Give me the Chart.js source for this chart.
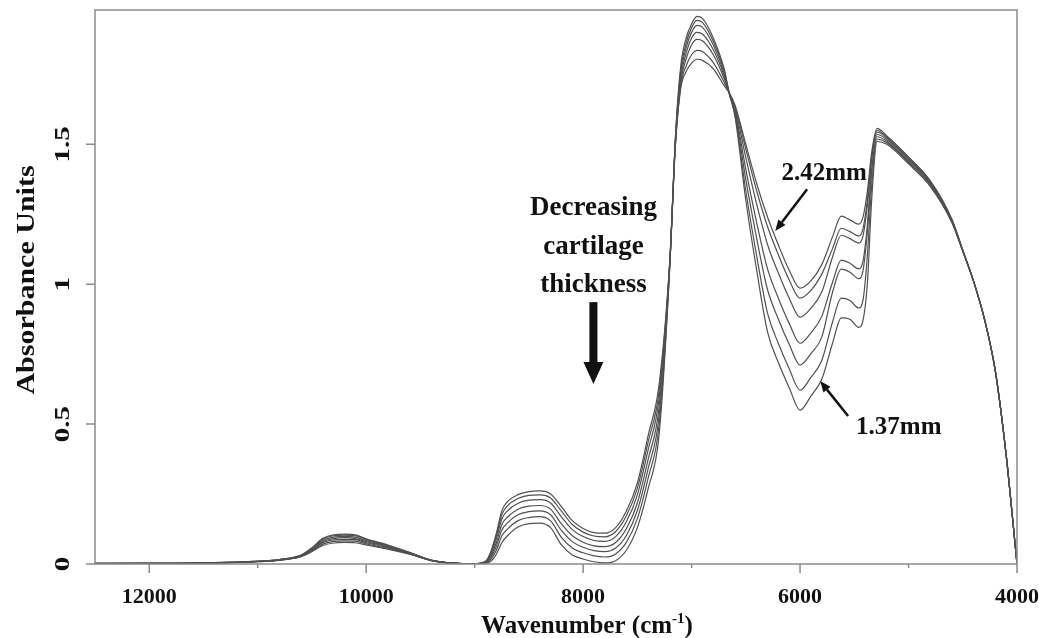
<!DOCTYPE html>
<html>
<head>
<meta charset="utf-8">
<script src="https://cdn.jsdelivr.net/npm/chart.js@4.4.1/dist/chart.umd.min.js"></script>
<style>
  html, body { margin: 0; padding: 0; background: #ffffff; }
  #wrap { width: 1039px; height: 638px; }
</style>
</head>
<body>
<div id="wrap"><canvas id="c" width="1039" height="638"></canvas></div>
<script>
// Wavenumber grid (cm-1)
const wavenumbers = [12500, 12000, 11500, 11000, 10800, 10600, 10500, 10400, 10300, 10200, 10100, 10000,
  9800, 9600, 9400, 9200, 9000, 8900, 8850, 8800, 8750, 8700, 8600, 8500, 8400, 8300, 8200, 8100, 8000, 7900, 7800,
  7700, 7600, 7500, 7400, 7300, 7200, 7150, 7100, 7050, 7000, 6950, 6900, 6800, 6700, 6650, 6600, 6500,
  6400, 6300, 6200, 6100, 6000, 5900, 5800, 5700, 5620, 5540, 5460, 5420, 5380, 5340, 5290, 5200, 5000,
  4800, 4600, 4500, 4400, 4300, 4200, 4100, 4050, 4000];

// Absorbance spectra, thickest (2.42 mm) to thinnest (1.37 mm)
const spec242 = [0.002, 0.002, 0.004, 0.010, 0.016, 0.032, 0.058, 0.092, 0.104, 0.107, 0.104, 0.090,
  0.068, 0.042, 0.014, 0.003, 0.001, 0.010, 0.045, 0.110, 0.190, 0.222, 0.248, 0.259, 0.261, 0.250, 0.205, 0.155, 0.127, 0.112, 0.110,
  0.130, 0.190, 0.290, 0.460, 0.640, 1.090, 1.490, 1.700, 1.760, 1.790, 1.804, 1.800, 1.770, 1.710, 1.682, 1.640, 1.500,
  1.360, 1.240, 1.140, 1.050, 0.986, 1.012, 1.070, 1.170, 1.243, 1.230, 1.215, 1.240, 1.330, 1.470, 1.557, 1.530, 1.455,
  1.370, 1.232, 1.122, 1.010, 0.875, 0.690, 0.390, 0.200, 0.000];
const spec2 = [0.002, 0.002, 0.004, 0.010, 0.016, 0.031, 0.056, 0.089, 0.101, 0.103, 0.101, 0.087,
  0.066, 0.041, 0.014, 0.003, 0.001, 0.009, 0.041, 0.101, 0.176, 0.207, 0.234, 0.245, 0.247, 0.236, 0.189, 0.141, 0.114, 0.100, 0.097,
  0.116, 0.173, 0.271, 0.437, 0.618, 1.088, 1.494, 1.710, 1.780, 1.820, 1.836, 1.832, 1.792, 1.722, 1.681, 1.637, 1.483,
  1.334, 1.206, 1.105, 1.015, 0.950, 0.978, 1.036, 1.128, 1.200, 1.188, 1.172, 1.198, 1.300, 1.455, 1.550, 1.526, 1.452,
  1.368, 1.230, 1.121, 1.010, 0.875, 0.690, 0.390, 0.200, 0.000];
const spec3 = [0.002, 0.002, 0.004, 0.009, 0.015, 0.030, 0.054, 0.085, 0.096, 0.099, 0.096, 0.084,
  0.064, 0.040, 0.013, 0.003, 0.001, 0.008, 0.036, 0.090, 0.160, 0.189, 0.217, 0.228, 0.230, 0.218, 0.168, 0.123, 0.098, 0.084, 0.081,
  0.098, 0.152, 0.247, 0.409, 0.591, 1.085, 1.498, 1.722, 1.805, 1.855, 1.875, 1.870, 1.820, 1.735, 1.680, 1.630, 1.452,
  1.286, 1.142, 1.040, 0.950, 0.882, 0.914, 0.972, 1.098, 1.175, 1.163, 1.147, 1.172, 1.280, 1.445, 1.543, 1.522, 1.448,
  1.365, 1.228, 1.120, 1.010, 0.875, 0.690, 0.390, 0.200, 0.000];
const spec4 = [0.002, 0.002, 0.003, 0.009, 0.015, 0.029, 0.052, 0.080, 0.091, 0.094, 0.091, 0.080,
  0.061, 0.039, 0.013, 0.003, 0.001, 0.007, 0.029, 0.076, 0.140, 0.167, 0.196, 0.207, 0.209, 0.196, 0.143, 0.101, 0.078, 0.065, 0.062,
  0.077, 0.127, 0.218, 0.375, 0.559, 1.081, 1.504, 1.736, 1.825, 1.880, 1.900, 1.894, 1.838, 1.745, 1.680, 1.622, 1.410,
  1.220, 1.055, 0.950, 0.860, 0.789, 0.826, 0.885, 1.008, 1.086, 1.075, 1.055, 1.082, 1.210, 1.410, 1.535, 1.517, 1.444,
  1.361, 1.226, 1.120, 1.010, 0.875, 0.690, 0.390, 0.200, 0.000];
const spec5 = [0.001, 0.002, 0.003, 0.009, 0.014, 0.028, 0.049, 0.076, 0.086, 0.088, 0.087, 0.076,
  0.059, 0.038, 0.013, 0.003, 0.001, 0.006, 0.023, 0.063, 0.121, 0.146, 0.176, 0.187, 0.190, 0.176, 0.120, 0.080, 0.060, 0.048, 0.044,
  0.057, 0.103, 0.191, 0.342, 0.528, 1.078, 1.509, 1.750, 1.845, 1.900, 1.925, 1.918, 1.855, 1.755, 1.679, 1.615, 1.374,
  1.164, 0.981, 0.875, 0.785, 0.711, 0.752, 0.811, 0.972, 1.054, 1.043, 1.020, 1.048, 1.185, 1.395, 1.527, 1.511, 1.439,
  1.358, 1.224, 1.119, 1.010, 0.875, 0.690, 0.390, 0.200, 0.000];
const spec6 = [0.001, 0.002, 0.003, 0.008, 0.014, 0.027, 0.047, 0.071, 0.081, 0.083, 0.082, 0.072,
  0.056, 0.036, 0.012, 0.003, 0.001, 0.005, 0.017, 0.049, 0.100, 0.124, 0.155, 0.166, 0.169, 0.154, 0.095, 0.057, 0.040, 0.029, 0.025,
  0.036, 0.078, 0.162, 0.308, 0.496, 1.074, 1.514, 1.764, 1.862, 1.917, 1.943, 1.936, 1.868, 1.763, 1.678, 1.607, 1.333,
  1.101, 0.897, 0.788, 0.698, 0.621, 0.667, 0.727, 0.866, 0.950, 0.942, 0.915, 0.942, 1.100, 1.350, 1.518, 1.506, 1.435,
  1.354, 1.222, 1.118, 1.010, 0.875, 0.690, 0.390, 0.200, 0.000];
const spec137 = [0.001, 0.002, 0.003, 0.008, 0.013, 0.026, 0.044, 0.066, 0.075, 0.077, 0.076, 0.068,
  0.053, 0.035, 0.012, 0.003, 0.001, 0.003, 0.010, 0.035, 0.076, 0.100, 0.132, 0.144, 0.146, 0.130, 0.068, 0.032, 0.018, 0.008, 0.004,
  0.012, 0.050, 0.130, 0.270, 0.460, 1.070, 1.520, 1.780, 1.880, 1.930, 1.957, 1.950, 1.880, 1.770, 1.677, 1.600, 1.300,
  1.050, 0.830, 0.720, 0.630, 0.550, 0.600, 0.660, 0.790, 0.880, 0.875, 0.846, 0.870, 1.000, 1.300, 1.510, 1.500, 1.430,
  1.350, 1.220, 1.118, 1.010, 0.875, 0.690, 0.390, 0.200, 0.000];

const seriesList = [spec242, spec2, spec3, spec4, spec5, spec6, spec137];
const seriesNames = ['2.42mm', 's2', 's3', 's4', 's5', 's6', '1.37mm'];

const xTickValues = [12000, 10000, 8000, 6000, 4000];
const xTickLabels = ['12000', '10000', '8000', '6000', '4000'];
const xMinorTicks = [11000, 9000, 7000, 5000];
const yTickValues = [0, 0.5, 1, 1.5];
const yTickLabels = ['0', '0.5', '1', '1.5'];

const SERIF = '"Liberation Serif", "Times New Roman", serif';
const AXIS_GREY = '#8a8a8a';

function arrow(ctx, x1, y1, x2, y2, lw, headLen, headW) {
  const ang = Math.atan2(y2 - y1, x2 - x1);
  const bx = x2 - headLen * Math.cos(ang), by = y2 - headLen * Math.sin(ang);
  ctx.save();
  ctx.strokeStyle = '#111'; ctx.fillStyle = '#111'; ctx.lineWidth = lw;
  ctx.beginPath(); ctx.moveTo(x1, y1); ctx.lineTo(bx, by); ctx.stroke();
  ctx.beginPath();
  ctx.moveTo(x2, y2);
  ctx.lineTo(bx + headW / 2 * Math.sin(ang), by - headW / 2 * Math.cos(ang));
  ctx.lineTo(bx - headW / 2 * Math.sin(ang), by + headW / 2 * Math.cos(ang));
  ctx.closePath(); ctx.fill();
  ctx.restore();
}

const decor = {
  id: 'decor',
  afterDraw(chart) {
    const ctx = chart.ctx, xs = chart.scales.x, ys = chart.scales.y, a = chart.chartArea;
    ctx.save();
    // frame
    ctx.strokeStyle = AXIS_GREY; ctx.lineWidth = 1.5;
    ctx.strokeRect(a.left, a.top, a.right - a.left, a.bottom - a.top);
    // ticks
    ctx.beginPath();
    xTickValues.forEach(v => { const px = xs.getPixelForValue(v); ctx.moveTo(px, a.bottom); ctx.lineTo(px, a.bottom + 9); });
    xMinorTicks.forEach(v => { const px = xs.getPixelForValue(v); ctx.moveTo(px, a.bottom); ctx.lineTo(px, a.bottom + 4); });
    yTickValues.forEach(v => { const py = ys.getPixelForValue(v); ctx.moveTo(a.left, py); ctx.lineTo(a.left - 9, py); });
    ctx.stroke();
    ctx.fillStyle = '#111';
    // x tick labels
    ctx.font = 'bold 22px ' + SERIF;
    ctx.textAlign = 'center'; ctx.textBaseline = 'middle';
    xTickValues.forEach((v, i) => ctx.fillText(xTickLabels[i], xs.getPixelForValue(v), a.bottom + 33));
    // y tick labels (rotated, narrow)
    ctx.font = 'bold 29px ' + SERIF;
    yTickValues.forEach((v, i) => {
      const py = ys.getPixelForValue(v);
      ctx.save(); ctx.translate(63, py); ctx.rotate(-Math.PI / 2); ctx.scale(1, 0.75);
      ctx.fillText(yTickLabels[i], 0, 0); ctx.restore();
    });
    // y title
    ctx.save(); ctx.translate(27, 280); ctx.rotate(-Math.PI / 2);
    ctx.font = 'bold 30px ' + SERIF; ctx.scale(1, 0.85); ctx.fillText('Absorbance Units', 0, 0); ctx.restore();
    // x title with superscript
    ctx.textAlign = 'left'; ctx.textBaseline = 'alphabetic';
    const f1 = 'bold 25px ' + SERIF, f2 = 'bold 15px ' + SERIF;
    const p1 = 'Wavenumber (cm', p2 = '-1', p3 = ')';
    ctx.font = f1; const w1 = ctx.measureText(p1).width, w3 = ctx.measureText(p3).width;
    ctx.font = f2; const w2 = ctx.measureText(p2).width;
    let tx = 587 - (w1 + w2 + w3) / 2; const ty = 633;
    ctx.font = f1; ctx.fillText(p1, tx, ty); tx += w1;
    ctx.font = f2; ctx.fillText(p2, tx, ty - 10); tx += w2;
    ctx.font = f1; ctx.fillText(p3, tx, ty);
    // annotations
    ctx.textAlign = 'center'; ctx.textBaseline = 'middle';
    ctx.font = 'bold 25px ' + SERIF;
    ctx.fillText('2.42mm', xs.getPixelForValue(5778), ys.getPixelForValue(1.396));
    ctx.fillText('1.37mm', xs.getPixelForValue(5090), ys.getPixelForValue(0.489));
    arrow(ctx, xs.getPixelForValue(5935), ys.getPixelForValue(1.339), xs.getPixelForValue(6229), ys.getPixelForValue(1.19), 2.5, 11, 9);
    arrow(ctx, xs.getPixelForValue(5557), ys.getPixelForValue(0.529), xs.getPixelForValue(5815), ys.getPixelForValue(0.654), 2.5, 11, 9);
    ctx.font = 'bold 27px ' + SERIF;
    const cx = xs.getPixelForValue(7905);
    ctx.fillText('Decreasing', cx, ys.getPixelForValue(1.271));
    ctx.fillText('cartilage', cx, ys.getPixelForValue(1.132));
    ctx.fillText('thickness', cx, ys.getPixelForValue(0.996));
    arrow(ctx, cx, ys.getPixelForValue(0.936), cx, ys.getPixelForValue(0.643), 8, 22, 20);
    ctx.restore();
  }
};

const datasets = seriesList.map((s, k) => ({
  label: seriesNames[k],
  data: wavenumbers.map((w, i) => ({ x: w, y: s[i] })),
  borderColor: '#505050',
  borderWidth: 1.2,
  pointRadius: 0,
  fill: false,
  cubicInterpolationMode: 'monotone'
}));

new Chart(document.getElementById('c'), {
  type: 'line',
  data: { datasets },
  options: {
    responsive: false,
    animation: false,
    layout: { padding: { top: 10, right: 22, left: 0, bottom: 0 } },
    plugins: { legend: { display: false }, tooltip: { enabled: false } },
    scales: {
      x: {
        type: 'linear', min: 4000, max: 12500, reverse: true,
        afterFit: s => { s.height = 74; },
        grid: { display: false },
        border: { display: false },
        ticks: { display: false }
      },
      y: {
        type: 'linear', min: 0, max: 1.98,
        afterFit: s => { s.width = 95; },
        grid: { display: false },
        border: { display: false },
        ticks: { display: false }
      }
    }
  },
  plugins: [decor]
});
</script>
</body>
</html>
